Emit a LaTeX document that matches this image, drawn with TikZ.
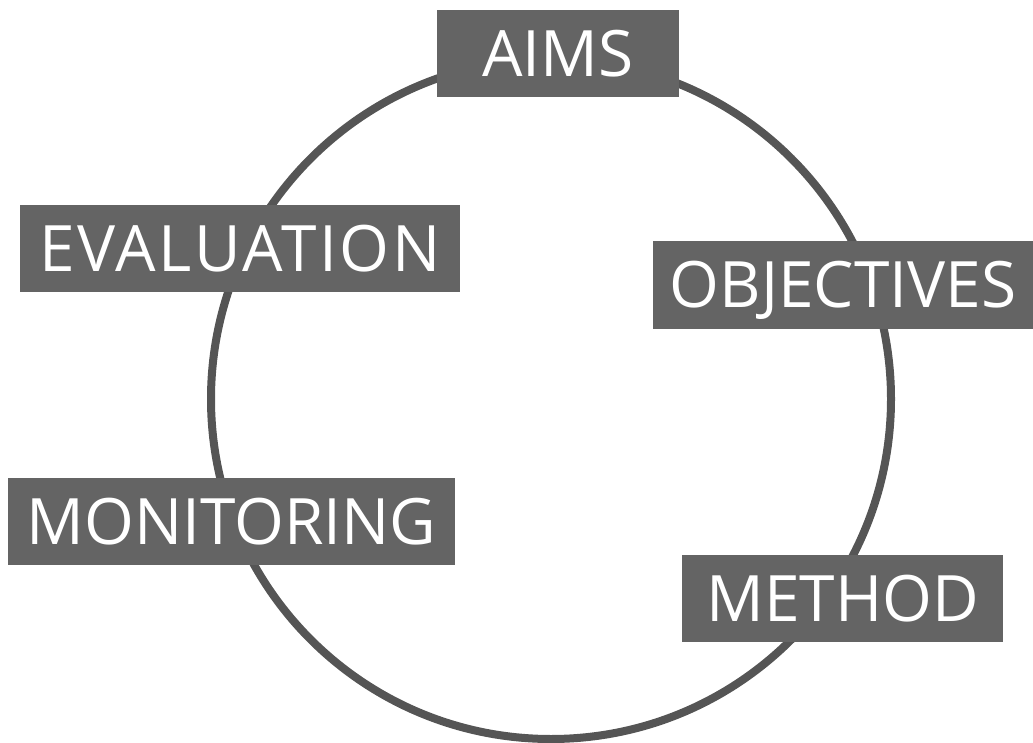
\documentclass[tikz,border=0pt]{standalone}
\usepackage{fontspec}
\setmainfont{Open Sans}
\definecolor{ringgray}{HTML}{555555}
\definecolor{boxgray}{HTML}{646464}
\tikzset{
  label box/.style={fill=boxgray, text=white, inner sep=0pt, minimum height=87pt,
    font=\fontsize{64}{64}\selectfont, text height=46pt, text depth=0pt, anchor=center},
}
\begin{document}
\begin{tikzpicture}[x=1pt,y=-1pt]
\useasboundingbox (0,0) rectangle (1033,743);
\draw[ringgray, line width=8pt] (551,399) circle[radius=340];
\node[label box, minimum width=242pt] (aims) at (558,54) {AIMS};
\node[label box, minimum width=380pt] (objectives) at (843,285) {OBJECTIVES};
\node[label box, minimum width=321pt] (method) at (842.5,598.5) {METHOD};
\node[label box, minimum width=447pt] (monitoring) at (231.5,521.5) {MONITORING};
\node[label box, minimum width=440pt] (evaluation) at (240,248.5) {\addfontfeature{LetterSpace=4}EVALUATION};
\end{tikzpicture}
\end{document}
